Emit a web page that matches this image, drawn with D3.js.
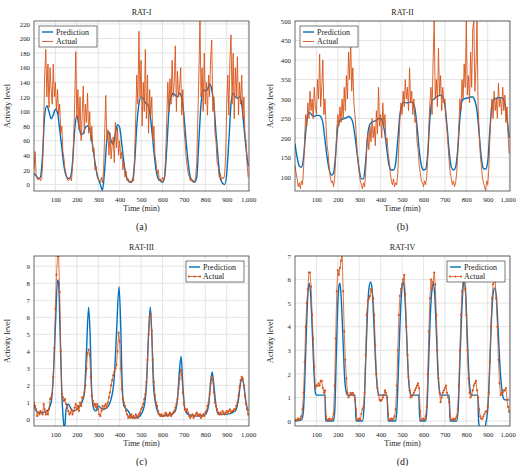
<!DOCTYPE html>
<html>
<head>
<meta charset="utf-8">
<script src="https://cdn.jsdelivr.net/npm/d3@7"></script>
<style>
  body { margin: 0; background: #fff; }
  svg text { font-family: "Liberation Serif", "DejaVu Serif", serif; fill: #222; }
</style>
</head>
<body>
<svg id="chart" width="516" height="466"></svg>
<script>
// minutes sampled every 5 min for the measured series
const time5 = d3.range(0, 1001, 5);

// RAT-I
const ratIActual = [20,45,12,8,6,10,5,8,25,80,150,185,120,165,105,160,130,110,165,120,140,100,130,95,110,70,80,45,35,20,15,8,5,6,10,5,25,60,110,182,90,130,75,120,60,95,135,70,110,85,125,70,100,60,80,45,50,20,25,10,8,5,3,10,2,20,70,122,60,75,40,70,35,55,65,30,85,50,78,40,60,35,45,20,30,10,18,5,8,3,5,2,8,5,40,90,150,110,210,120,170,80,140,100,185,90,150,70,130,95,120,60,80,40,30,15,20,5,8,3,10,5,12,40,90,140,100,145,110,170,120,140,190,100,155,120,135,160,95,130,80,60,40,25,15,10,5,8,3,5,4,10,30,90,150,225,120,160,100,180,110,140,95,150,120,175,198,100,120,70,60,30,25,10,15,5,10,8,12,40,110,150,95,170,205,110,180,90,160,120,175,95,140,110,150,90,120,70,60,30,10];
const ratIPredT = d3.range(0, 1001, 10);
const ratIPred = [15,12,8,10,40,95,108,100,90,95,103,98,75,50,25,12,8,10,30,75,95,80,68,70,78,80,76,60,40,20,8,0,-8,20,60,72,60,55,70,82,78,55,30,12,5,3,5,30,80,110,120,118,112,110,100,75,45,20,8,5,3,10,50,100,120,125,122,120,125,118,95,60,30,10,5,3,10,60,110,130,128,130,138,130,110,70,35,8,2,0,15,60,110,125,120,118,120,110,80,50,25];

// RAT-II
const ratIIActual = [130,110,95,75,85,70,90,80,120,200,260,230,290,250,320,270,300,250,330,280,260,350,300,415,280,330,400,260,300,230,180,160,120,100,85,90,75,95,150,220,260,230,280,240,300,250,330,270,360,300,420,350,450,320,380,290,260,220,170,140,110,90,80,70,85,75,110,180,210,170,230,190,250,200,230,180,270,210,330,230,260,200,290,230,260,190,200,160,140,110,90,80,95,75,85,80,110,180,250,290,260,320,280,350,300,330,270,380,290,320,260,300,240,250,190,170,130,110,90,85,75,90,80,100,150,230,290,330,260,400,500,300,350,280,430,310,360,270,330,290,300,250,220,180,140,110,95,80,90,75,85,110,160,230,300,270,350,300,390,330,500,310,360,290,420,330,480,500,320,380,500,280,220,160,130,100,85,75,65,90,80,120,200,260,300,250,320,270,300,250,340,280,300,260,330,270,310,240,280,210,160];
const ratIIPredT = d3.range(0, 1001, 10);
const ratIIPred = [185,150,128,125,150,215,260,265,258,255,258,258,255,240,195,150,118,105,110,160,230,245,248,250,252,255,252,240,205,160,118,95,95,140,210,235,240,243,245,250,250,240,210,165,128,118,118,135,195,260,285,292,290,290,292,290,275,230,170,130,118,120,160,250,295,300,305,308,310,305,285,230,165,125,118,125,170,250,295,300,302,303,305,305,295,270,210,150,122,120,140,220,285,300,302,303,303,302,290,250,200];

// RAT-III
const ratIIIActual = [1.0,0.8,0.6,0.2,0.4,0.3,0.5,0.4,0.3,0.9,0.6,0.3,0.5,0.3,0.6,1.2,1.3,1.5,2.5,4.2,6.5,8.5,9.6,9.6,7.5,4,1.5,1.3,1.1,1.2,0.9,0.7,0.5,0.3,0.4,0.6,0.3,0.5,0.7,0.9,0.6,0.8,0.5,1.0,0.8,1.3,1.3,1.6,2.0,3.0,3.9,4.1,3.8,2.5,1.4,1.1,0.8,0.9,0.7,0.9,0.6,0.3,0.2,0.5,0.8,0.6,0.8,0.9,0.7,1.0,1.3,1.6,2.0,2.3,2.6,2.8,3.0,3.2,4.0,5.1,4.6,3.0,1.8,1.2,1.0,0.8,0.5,0.3,0.1,0.2,0.1,0.3,0.1,0.2,0.1,0.3,0.2,0.1,0.3,0.4,0.6,0.7,0.9,1.2,1.5,2.2,3.5,5.0,6.0,6.2,5.2,3.5,2.2,1.4,1.0,0.8,0.5,0.3,0.2,0.3,0.2,0.2,0.3,0.4,0.3,0.2,0.3,0.4,0.2,0.3,0.4,0.5,0.7,0.9,1.2,1.8,2.4,2.9,2.6,1.6,0.9,0.6,0.5,0.6,0.4,0.2,0.1,0.2,0.3,0.1,0.2,0.3,0.4,0.3,0.2,0.3,0.1,0.2,0.3,0.2,0.4,0.5,0.8,1.0,1.5,2.1,2.5,2.3,1.6,1.0,0.8,0.6,0.4,0.3,0.4,0.3,0.5,0.4,0.3,0.4,0.5,0.4,0.5,0.6,0.4,0.5,0.5,0.6,0.6,0.8,1.0,1.4,1.9,2.3,2.5,2.4,2.0,1.4,0.9,0.6,0.3];
const ratIIIPredT = [0,10,30,60,80,90,100,110,115,122,130,135,142,150,160,180,200,220,235,245,255,262,270,280,290,300,320,340,360,375,385,397,405,412,420,440,460,480,500,515,525,535,543,550,558,570,585,600,640,660,672,680,687,695,705,720,760,800,815,825,832,840,850,860,900,940,955,965,972,980,990,1000];
const ratIIIPred = [0.9,0.5,0.4,0.5,1.0,2.5,5.5,8.2,8.0,5,1.5,0.3,-0.6,0.6,0.9,0.5,0.6,0.9,1.5,4,6.6,5,1.5,0.6,0.5,0.8,0.6,0.7,1.2,2.5,5,7.8,5.5,2,0.8,0.5,0.1,0.1,0.3,0.8,2,5,6.6,5,2,0.8,0.3,0.2,0.3,0.5,1.5,3,3.7,2,0.6,0.3,0.2,0.3,0.8,2.2,2.8,2.0,0.8,0.3,0.3,0.5,1.2,2.2,2.4,2,1,0.5];

// RAT-IV
const ratIVActual = [0.05,0.05,0.05,0.1,0.05,0.1,0.2,0.5,1.2,2.5,4.0,5.0,5.6,6.3,6.3,5.7,4.5,3.5,2.3,1.4,1.5,1.5,1.6,1.5,1.7,1.7,1.4,1.2,1.3,0.2,0.05,0.05,0.1,0.05,0.05,0.1,0.3,1.5,3.5,5.5,6.4,6.2,6.5,6.8,7.1,5.5,3.8,2.6,1.8,1.2,1.0,1.1,1.2,1.15,1.2,1.1,0.9,0.5,0.05,0.05,0.1,0.05,0.3,0.5,0.6,1.2,2.8,4.5,5.1,5.2,5.3,5.6,5.5,5.2,4.5,3.2,2.0,1.4,1.1,0.9,0.85,0.9,1.0,1.1,1.3,1.2,1.0,0.3,0.05,0.05,0.1,0.05,0.1,0.2,0.5,1.5,3.0,4.5,5.3,5.6,5.8,6.0,6.2,5.4,4.0,2.8,1.9,1.3,1.0,1.05,1.1,1.2,1.3,1.4,1.5,1.6,1.4,0.4,0.05,0.05,0.1,0.05,0.2,0.6,2.0,3.8,5.2,6.0,5.6,5.9,6.3,5.8,4.5,3.0,1.8,1.2,0.8,1.0,1.2,1.3,1.4,1.5,1.2,1.0,0.8,0.2,0.05,0.05,0.1,0.05,0.1,0.2,0.5,1.5,3.0,4.5,5.5,5.9,6.0,5.6,4.5,3.0,1.8,1.2,1.0,1.1,1.3,1.5,1.6,1.7,1.3,1.0,0.5,0.2,0.1,0.1,0.2,0.3,0.4,0.4,0.6,1.2,2.5,4.0,5.2,5.8,6.0,5.9,5.2,4.0,2.6,1.6,1.1,1.2,1.2,1.3,1.3,1.4,0.9,0.6,0.4];
const ratIVPredT = [0,30,38,45,52,58,65,72,80,88,95,100,140,143,180,186,192,198,205,210,216,224,232,240,245,280,285,315,322,330,338,345,353,360,368,378,388,395,430,435,470,476,484,492,500,506,513,522,530,538,542,578,583,610,616,624,632,640,646,652,660,668,676,680,720,724,755,762,770,778,785,790,797,805,813,820,825,853,858,865,885,893,900,908,916,924,932,940,948,956,964,972,980,1000];
const ratIVPred = [0,0.05,0.3,1.5,3.5,5,5.85,5.5,4,2.2,1.2,1.1,1.1,0,0,0.5,2.5,4.5,5.7,5.85,5.2,3.5,1.8,1.2,1.1,1.1,0,0,0.5,2.5,4.5,5.6,5.9,5.6,4.2,2.2,1.2,1.1,1.1,0,0,0.5,2.5,4.5,5.7,5.9,5.3,3.5,1.8,1.2,1.1,1.1,0,0,0.5,2.5,4.5,5.6,5.85,5.4,3.8,2,1.2,1.1,1.1,0,0,0.5,2.5,4.5,5.7,5.95,5.4,3.5,1.8,1.2,1.1,1.1,-0.1,-0.3,-0.3,0,0.5,2,4,5.3,5.65,5.3,4,2.5,1.5,1.0,0.9,0.9];

const xTicks = d3.range(100, 1001, 100);
const panelTitles = ['RAT-I', 'RAT-II', 'RAT-III', 'RAT-IV'];
const captions = ['(a)', '(b)', '(c)', '(d)'];

const blue = '#0072bd';
const orange = '#d95319';

const panels = [
  { title: panelTitles[0], caption: captions[0], x0: 34, y0: 21, yDomain: [-9, 224], yTicks: d3.range(0, 221, 20),
    actual: ratIActual, predT: ratIPredT, pred: ratIPred, markers: false, legend: 'left' },
  { title: panelTitles[1], caption: captions[1], x0: 295, y0: 21, yDomain: [64, 500], yTicks: d3.range(100, 501, 50),
    actual: ratIIActual, predT: ratIIPredT, pred: ratIIPred, markers: false, legend: 'left' },
  { title: panelTitles[2], caption: captions[2], x0: 34, y0: 256, yDomain: [-0.38, 9.6], yTicks: d3.range(0, 10, 1),
    actual: ratIIIActual, predT: ratIIIPredT, pred: ratIIIPred, markers: true, legend: 'right' },
  { title: panelTitles[3], caption: captions[3], x0: 295, y0: 256, yDomain: [-0.21, 7], yTicks: d3.range(0, 8, 1),
    actual: ratIVActual, predT: ratIVPredT, pred: ratIVPred, markers: true, legend: 'right' }
];

const W = 215, H = 170;
const svg = d3.select('#chart');

panels.forEach((p, i) => {
  const g = svg.append('g').attr('transform', `translate(${p.x0},${p.y0})`);
  const x = d3.scaleLinear().domain([0, 1004]).range([0, W]);
  const y = d3.scaleLinear().domain(p.yDomain).range([H, 0]);

  g.append('clipPath').attr('id', 'clip' + i)
    .append('rect').attr('width', W).attr('height', H);

  // grid
  g.append('g').selectAll('line').data(xTicks).join('line')
    .attr('x1', d => x(d)).attr('x2', d => x(d)).attr('y1', 0).attr('y2', H)
    .attr('stroke', '#dadada').attr('stroke-width', 0.7);
  g.append('g').selectAll('line').data(p.yTicks).join('line')
    .attr('x1', 0).attr('x2', W).attr('y1', d => y(d)).attr('y2', d => y(d))
    .attr('stroke', '#dadada').attr('stroke-width', 0.7);

  // axes
  const xAxis = g.append('g').attr('transform', `translate(0,${H})`)
    .call(d3.axisBottom(x).tickValues(xTicks).tickSize(0).tickPadding(6)
      .tickFormat(d3.format(',')));
  const yAxis = g.append('g')
    .call(d3.axisLeft(y).tickValues(p.yTicks).tickSize(0).tickPadding(4));
  [xAxis, yAxis].forEach(a => {
    a.select('.domain').remove();
    a.selectAll('text').attr('font-size', 6.8);
  });
  // keep "1,000" inside the page
  xAxis.selectAll('text').filter(d => d === 1000).attr('dx', i % 2 ? -1.5 : 0);

  const plot = g.append('g').attr('clip-path', `url(#clip${i})`);

  // prediction first, measured series on top
  const lineP = d3.line().curve(d3.curveMonotoneX)
    .x((d, k) => x(p.predT[k])).y(d => y(d));
  plot.append('path').datum(p.pred)
    .attr('fill', 'none').attr('stroke', blue).attr('stroke-width', 1.4)
    .attr('d', lineP);

  const lineA = d3.line().x((d, k) => x(time5[k])).y(d => y(d));
  plot.append('path').datum(p.actual)
    .attr('fill', 'none').attr('stroke', orange)
    .attr('stroke-width', p.markers ? 0.8 : 0.9)
    .attr('stroke-linejoin', 'round')
    .attr('d', lineA);
  if (p.markers) {
    plot.append('g').selectAll('circle').data(p.actual).join('circle')
      .attr('cx', (d, k) => x(time5[k])).attr('cy', d => y(d))
      .attr('r', 1.1).attr('fill', orange);
  }

  // frame
  g.append('rect').attr('width', W).attr('height', H)
    .attr('fill', 'none').attr('stroke', '#444').attr('stroke-width', 0.8);

  // titles and labels
  g.append('text').attr('x', W / 2).attr('y', -6).attr('text-anchor', 'middle')
    .attr('font-size', 8).text(p.title);
  g.append('text').attr('x', W / 2).attr('y', H + 20).attr('text-anchor', 'middle')
    .attr('font-size', 8).text('Time (min)');
  g.append('text').attr('transform', `translate(${i % 2 ? -22 : -24},${H / 2}) rotate(-90)`)
    .attr('text-anchor', 'middle').attr('font-size', 8).text('Activity level');
  g.append('text').attr('x', W / 2).attr('y', H + 39).attr('text-anchor', 'middle')
    .attr('font-size', 10).text(p.caption);

  // legend
  const lx = p.legend === 'left' ? 5 : W - 63;
  const lg = g.append('g').attr('transform', `translate(${lx},5)`);
  lg.append('rect').attr('width', 58).attr('height', 21)
    .attr('fill', '#fff').attr('stroke', '#444').attr('stroke-width', 0.7);
  lg.append('line').attr('x1', 3).attr('x2', 14).attr('y1', 6).attr('y2', 6)
    .attr('stroke', blue).attr('stroke-width', 1.4);
  lg.append('line').attr('x1', 3).attr('x2', 14).attr('y1', 15.5).attr('y2', 15.5)
    .attr('stroke', orange).attr('stroke-width', p.markers ? 0.8 : 0.9);
  if (p.markers) {
    lg.selectAll('circle').data([3, 8.5, 14]).join('circle')
      .attr('cx', d => d).attr('cy', 15.5).attr('r', 1.1).attr('fill', orange);
  }
  lg.append('text').attr('x', 17).attr('y', 8.8).attr('font-size', 8).text('Prediction');
  lg.append('text').attr('x', 17).attr('y', 18.3).attr('font-size', 8).text('Actual');
});
</script>
</body>
</html>
